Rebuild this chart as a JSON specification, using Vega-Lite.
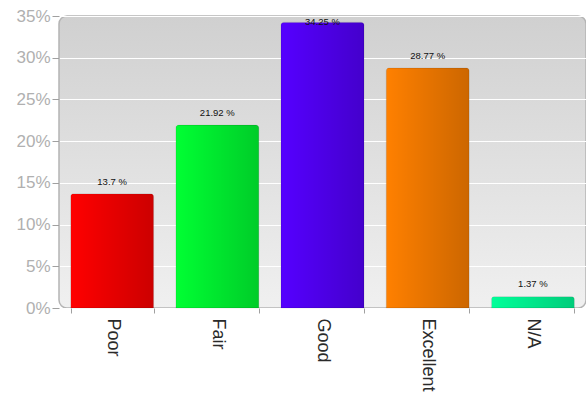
{
  "$schema": "https://vega.github.io/schema/vega-lite/v6.json",
  "autosize": "none",
  "padding": {"left": 59, "top": 16, "right": 0, "bottom": 90},
  "width": 527,
  "height": 292,
  "background": "#ffffff",
  "config": {
    "view": {
      "fill": {"gradient": "linear", "x1": 0, "y1": 0, "x2": 0, "y2": 1, "stops": [{"offset": 0, "color": "#d0d0d0"}, {"offset": 1, "color": "#f0f0f0"}]},
      "stroke": "#b4b4b4",
      "strokeWidth": 1.5,
      "cornerRadius": 8
    },
    "font": "Liberation Sans"
  },
  "data": {
    "values": [
      {"rating": "Poor", "value": 13.7},
      {"rating": "Fair", "value": 21.92},
      {"rating": "Good", "value": 34.25},
      {"rating": "Excellent", "value": 28.77},
      {"rating": "N/A", "value": 1.37}
    ]
  },
  "encoding": {
    "x": {
      "field": "rating",
      "type": "nominal",
      "sort": null,
      "scale": {"paddingInner": 0.21, "paddingOuter": 0.11},
      "axis": {
        "title": null,
        "domain": false,
        "tickBand": "extent",
        "tickColor": "#a0a0a0",
        "tickSize": 5,
        "labelAngle": 90,
        "labelAlign": "left",
        "labelBaseline": "middle",
        "labelFontSize": 18,
        "labelColor": "#2a2a2a",
        "labelPadding": 5,
        "labelOverlap": false,
        "labelBound": false
      }
    }
  },
  "layer": [
    {
      "mark": {"type": "bar", "cornerRadiusTopLeft": 3, "cornerRadiusTopRight": 3},
      "encoding": {
        "y": {
          "field": "value",
          "type": "quantitative",
          "scale": {"domain": [0, 35]},
          "axis": {
            "title": null,
            "domain": false,
            "values": [0, 5, 10, 15, 20, 25, 30, 35],
            "labelExpr": "datum.value + '%'",
            "labelOverlap": false,
            "labelBound": false,
            "labelFlush": false,
            "grid": true,
            "gridColor": "#ffffff",
            "gridWidth": 1.2,
            "tickColor": "#a0a0a0",
            "tickSize": 7,
            "labelFontSize": 17,
            "labelColor": "#b0b0b0",
            "labelPadding": 2
          }
        },
        "color": {
          "field": "rating",
          "type": "nominal",
          "sort": null,
          "legend": null,
          "scale": {"domain": ["Poor", "Fair", "Good", "Excellent", "N/A"], "range": ["#ff0000", "#00ff33", "#5500ff", "#ff8000", "#00ff99"]}
        }
      }
    },
    {
      "mark": {
        "type": "bar",
        "cornerRadiusTopLeft": 3,
        "cornerRadiusTopRight": 3,
        "stroke": "rgba(0,0,0,0.08)",
        "strokeWidth": 1,
        "fill": {"gradient": "linear", "x1": 0, "y1": 0, "x2": 1, "y2": 0, "stops": [{"offset": 0, "color": "rgba(0,0,0,0)"}, {"offset": 1, "color": "rgba(0,0,0,0.2)"}]}
      },
      "encoding": {"y": {"field": "value", "type": "quantitative"}}
    },
    {
      "transform": [
        {"calculate": "min(datum.value + 1.45, 34.3)", "as": "labelPos"},
        {"calculate": "datum.value + ' %'", "as": "label"}
      ],
      "mark": {"type": "text", "fontSize": 9.5, "fontWeight": "normal", "color": "#111111", "baseline": "middle"},
      "encoding": {
        "y": {"field": "labelPos", "type": "quantitative"},
        "text": {"field": "label"}
      }
    }
  ]
}
